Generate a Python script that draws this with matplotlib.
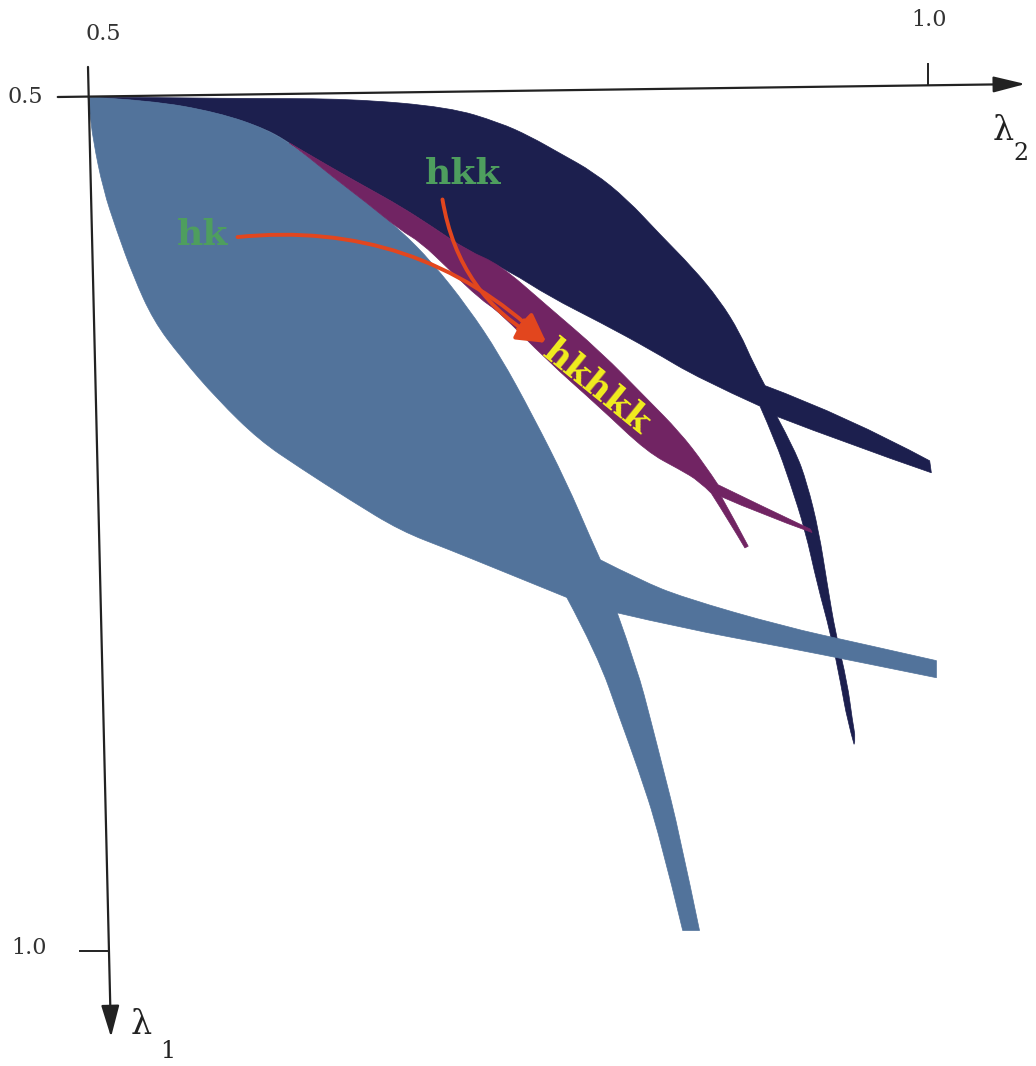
import matplotlib
matplotlib.use("Agg")
import matplotlib.pyplot as plt
from matplotlib.patches import FancyArrowPatch, PathPatch
from matplotlib.path import Path

# 領域の境界 (lambda2, lambda1)
# hk 領域 (明るい青)
hk_l2 = [0.500, 0.537, 0.577, 0.607, 0.626, 0.646, 0.666, 0.686, 0.705, 0.726, 0.745, 0.765, 0.785, 0.799, 0.805,
         0.829, 0.854, 0.914, 0.960, 1.005, 1.005, 0.960, 0.914, 0.854, 0.815,
         0.827, 0.835, 0.842, 0.852, 0.864, 0.854, 0.840, 0.827, 0.817, 0.803, 0.785,
         0.775, 0.745, 0.715, 0.686, 0.656, 0.626, 0.602, 0.577, 0.555, 0.539, 0.527, 0.517, 0.509, 0.503, 0.501]
hk_l1 = [0.500, 0.502, 0.509, 0.519, 0.531, 0.547, 0.562, 0.578, 0.597, 0.623, 0.651, 0.687, 0.726, 0.758, 0.771,
         0.783, 0.793, 0.810, 0.820, 0.830, 0.840, 0.831, 0.822, 0.811, 0.802,
         0.835, 0.865, 0.892, 0.931, 0.988, 0.988, 0.931, 0.892, 0.865, 0.826, 0.793,
         0.789, 0.777, 0.765, 0.754, 0.736, 0.717, 0.701, 0.677, 0.652, 0.631, 0.605, 0.578, 0.554, 0.525, 0.508]
hk_corners = [0, 14, 19, 20, 24, 29, 30, 35]

# hkk 領域 (濃紺)
hkk_l2 = [0.500, 0.596, 0.656, 0.715, 0.745, 0.763, 0.781, 0.801, 0.821, 0.840, 0.860, 0.876, 0.888, 0.896, 0.903,
          0.952, 1.001, 1.002, 0.952, 0.910,
          0.921, 0.928, 0.935, 0.940, 0.945, 0.952, 0.955, 0.957, 0.956,
          0.952, 0.948, 0.942, 0.934, 0.927, 0.918, 0.909, 0.900,
          0.864, 0.835, 0.805, 0.775, 0.751, 0.726, 0.705, 0.686, 0.666, 0.646, 0.620, 0.607, 0.577, 0.537]
hkk_l1 = [0.500, 0.501, 0.501, 0.506, 0.515, 0.523, 0.533, 0.544, 0.560, 0.580, 0.600, 0.619, 0.638, 0.656, 0.669,
          0.687, 0.713, 0.720, 0.703, 0.687,
          0.707, 0.726, 0.754, 0.785, 0.814, 0.843, 0.865, 0.876, 0.879,
          0.865, 0.843, 0.814, 0.785, 0.754, 0.726, 0.701, 0.681,
          0.665, 0.648, 0.632, 0.617, 0.602, 0.590, 0.576, 0.564, 0.553, 0.542, 0.527, 0.519, 0.509, 0.502]
hkk_corners = [0, 14, 16, 17, 19, 28, 36]

# hkhkk 領域 (紫)
hkhkk_l2 = [0.620, 0.646, 0.666, 0.686, 0.705, 0.726, 0.745, 0.773, 0.805, 0.833, 0.852, 0.867, 0.875,
            0.900, 0.930, 0.931, 0.900, 0.877,
            0.885, 0.893, 0.891, 0.882, 0.871,
            0.864, 0.852, 0.833, 0.805, 0.773, 0.745, 0.733, 0.715, 0.698, 0.686, 0.666, 0.646, 0.626]
hkhkk_l1 = [0.527, 0.542, 0.553, 0.564, 0.576, 0.590, 0.598, 0.622, 0.649, 0.677, 0.696, 0.715, 0.727,
            0.739, 0.753, 0.755, 0.744, 0.734,
            0.748, 0.763, 0.764, 0.749, 0.732,
            0.725, 0.718, 0.708, 0.682, 0.654, 0.626, 0.618, 0.601, 0.585, 0.578, 0.562, 0.547, 0.531]
hkhkk_corners = [0, 12, 14, 15, 17, 19, 20, 22]

# ラベル位置
labels = ["hk", "hkk", "hkhkk"]
label_l2 = [0.568, 0.723, 0.803]
label_l1 = [0.581, 0.545, 0.670]

# 矢印 (始点 -> 終点)
arrow_start = [(0.589, 0.582), (0.711, 0.560)]
arrow_end = (0.773, 0.644)
arrow_rad = [-0.23, 0.25]

col_hk = "#52739b"
col_hkk = "#1c1f4e"
col_hkhkk = "#712463"


# 角は残して、その間をなめらかにつなぐパス
def region_path(xs, ys, corners):
    pts = list(zip(xs, ys))
    n = len(pts)
    verts = [pts[0]]
    codes = [Path.MOVETO]
    cs = corners + [n]
    for a, b in zip(cs[:-1], cs[1:]):
        seg = [pts[i % n] for i in range(a, b + 1)]
        if len(seg) == 2:
            verts.append(seg[1])
            codes.append(Path.LINETO)
            continue
        for i in range(1, len(seg) - 1):
            if i < len(seg) - 2:
                end = ((seg[i][0] + seg[i + 1][0]) / 2, (seg[i][1] + seg[i + 1][1]) / 2)
            else:
                end = seg[-1]
            verts += [seg[i], end]
            codes += [Path.CURVE3, Path.CURVE3]
    verts.append(pts[0])
    codes.append(Path.CLOSEPOLY)
    return Path(verts, codes)


fig = plt.figure(figsize=(10.36, 10.66), dpi=100)
ax = fig.add_axes([0, 0, 1, 1])
ax.set_xlim(0.44762, 1.06429)
ax.set_ylim(1.06733, 0.44321)
ax.axis("off")

ax.add_patch(PathPatch(region_path(hkk_l2, hkk_l1, hkk_corners), fc=col_hkk, ec=col_hkk, lw=0.5))
ax.add_patch(PathPatch(region_path(hk_l2, hk_l1, hk_corners), fc=col_hk, ec=col_hk, lw=0.5))
ax.add_patch(PathPatch(region_path(hkhkk_l2, hkhkk_l1, hkhkk_corners), fc=col_hkhkk, ec=col_hkhkk, lw=0.5))

# 軸 (少し傾いている)
ax.annotate("", xy=(1.058, 0.4924), xytext=(0.482, 0.500),
            arrowprops=dict(arrowstyle="-|>,head_length=1.4,head_width=0.35", lw=1.6, color="#222222",
                            shrinkA=0, shrinkB=0, mutation_scale=14))
ax.annotate("", xy=(0.5137, 1.0504), xytext=(0.500, 0.4824),
            arrowprops=dict(arrowstyle="-|>,head_length=1.4,head_width=0.4", lw=1.6, color="#222222",
                            shrinkA=0, shrinkB=0, mutation_scale=14))
ax.plot([1.0, 1.0], [0.4807, 0.493], color="#222222", lw=1.4)
ax.plot([0.4952, 0.5119], [1.0, 1.0], color="#222222", lw=1.4)

tk = dict(fontsize=16, family="DejaVu Serif", color="#333333", ha="center", va="center")
ax.text(0.509, 0.463, "0.5", **tk)
ax.text(1.0006, 0.455, "1.0", **tk)
ax.text(0.4625, 0.500, "0.5", **tk)
ax.text(0.465, 0.998, "1.0", **tk)

lam = dict(family="DejaVu Serif", color="#222222", ha="center", va="center")
ax.text(1.0446, 0.520, "λ", fontsize=24, **lam)
ax.text(1.0554, 0.533, "2", fontsize=17, **lam)
ax.text(0.5315, 1.0433, "λ", fontsize=24, **lam)
ax.text(0.5476, 1.0591, "1", fontsize=17, **lam)

# 矢印
for (s, r) in zip(arrow_start, arrow_rad):
    arr = FancyArrowPatch(s, arrow_end, connectionstyle="arc3,rad=%s" % r,
                          arrowstyle="-|>,head_length=0.9,head_width=0.35", mutation_scale=20,
                          color="#e2461e", lw=2.8, shrinkA=0, shrinkB=0)
    ax.add_patch(arr)

lb = dict(fontsize=26, family="DejaVu Serif", weight="bold", ha="center", va="center")
ax.text(label_l2[0], label_l1[0], labels[0], color="#4e9e5e", **lb)
ax.text(label_l2[1], label_l1[1], labels[1], color="#4e9e5e", **lb)
ax.text(label_l2[2], label_l1[2], labels[2], color="#f2ee1e", rotation=-39, rotation_mode="anchor", **lb)

plt.savefig("out.png", dpi=100)
plt.close()
